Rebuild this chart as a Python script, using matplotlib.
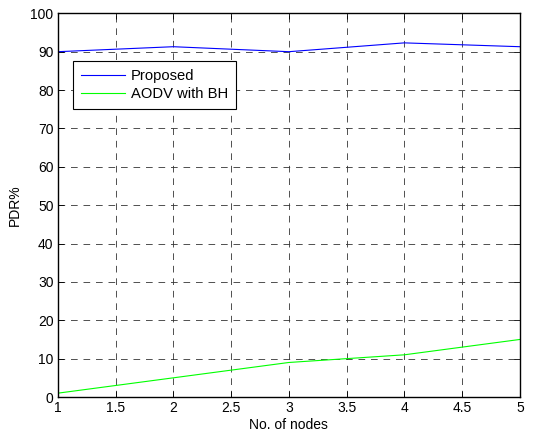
import matplotlib
matplotlib.use("Agg")
import matplotlib.pyplot as plt

nodes = [1, 2, 3, 4, 5]
proposed = [90, 91.3, 90, 92.3, 91.3]
aodv_bh = [1, 5, 9, 11, 15]

plt.rcParams['font.family'] = ['Liberation Sans', 'DejaVu Sans']
plt.rcParams['font.size'] = 10

fig = plt.figure(figsize=(5.53, 4.37), dpi=100)
ax = fig.add_axes([0.1045, 0.0915, 0.8355, 0.878])

ax.plot(nodes, proposed, color='#0000ff', lw=0.8, label='Proposed')
ax.plot(nodes, aodv_bh, color='#00ff00', lw=0.8, label='AODV with BH')

ax.set_xlim(1, 5)
ax.set_ylim(0, 100)
ax.set_xticks([1, 1.5, 2, 2.5, 3, 3.5, 4, 4.5, 5])
ax.set_xticklabels(['1', '1.5', '2', '2.5', '3', '3.5', '4', '4.5', '5'])
ax.set_yticks(range(0, 101, 10))
ax.grid(True, color='#333333', linestyle=(0, (8, 7)), lw=0.6)
ax.tick_params(direction='in', top=True, right=True, length=4, width=0.6, pad=3)
for s in ax.spines.values():
    s.set_linewidth(1.0)

ax.set_xlabel('No. of nodes', labelpad=2)
ax.set_ylabel('PDR%', labelpad=6)

leg = ax.legend(loc='upper left', bbox_to_anchor=(0.032, 0.8765), borderaxespad=0,
                fancybox=False, framealpha=1, edgecolor='black', handlelength=3.0,
                borderpad=0.55, labelspacing=0.3, handletextpad=0.4,
                prop={'size': 10.6})
leg.get_frame().set_linewidth(0.8)

fig.savefig('out.png', dpi=100)
